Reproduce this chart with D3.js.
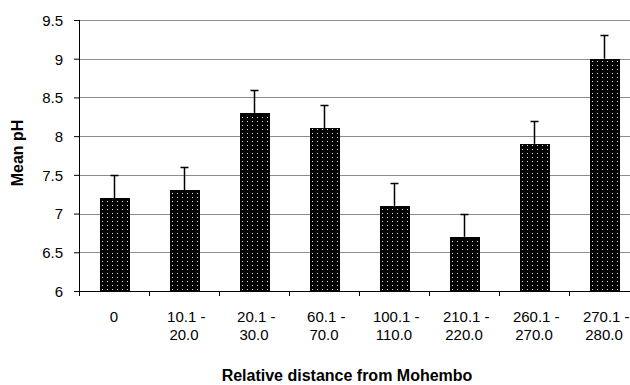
<!DOCTYPE html>
<html>
<head>
<meta charset="utf-8">
<script src="https://cdn.jsdelivr.net/npm/d3@7"></script>
<style>
body { margin: 0; background: #fff; }
text { font-family: "Liberation Sans", Arial, sans-serif; }
</style>
</head>
<body>
<div id="chart"></div>
<script>
// chart data
var categories = ["0", "10.1 - 20.0", "20.1 - 30.0", "60.1 - 70.0", "100.1 - 110.0", "210.1 - 220.0", "260.1 - 270.0", "270.1 - 280.0"];
var meanPH = [7.2, 7.3, 8.3, 8.1, 7.1, 6.7, 7.9, 9.0];
var errPH = [0.3, 0.3, 0.3, 0.3, 0.3, 0.3, 0.3, 0.3];
var yTicks = [6, 6.5, 7, 7.5, 8, 8.5, 9, 9.5];

var svgWidth = 630, svgHeight = 385;
// plot box (right edge runs past the picture, as in the original)
var plotLeft = 79, plotRight = 639, plotTop = 20, plotBottom = 291;

var svg = d3.select("#chart").append("svg")
    .attr("width", svgWidth)
    .attr("height", svgHeight);

// dotted fill for the bars
var pat = svg.append("defs").append("pattern")
    .attr("id", "dots")
    .attr("patternUnits", "userSpaceOnUse")
    .attr("width", 5)
    .attr("height", 4);
pat.append("rect").attr("width", 5).attr("height", 4).attr("fill", "#000");
pat.append("rect").attr("x", 2).attr("y", 1).attr("width", 1).attr("height", 1).attr("fill", "#e0e0e0");

var x = d3.scaleBand()
    .domain(categories)
    .range([plotLeft, plotRight])
    .paddingInner(0.586)
    .paddingOuter(0.293);

var y = d3.scaleLinear()
    .domain([6, 9.5])
    .range([plotBottom, plotTop]);

// gridlines
svg.append("g")
    .selectAll("line")
    .data(yTicks.slice(1))
    .enter().append("line")
    .attr("x1", plotLeft)
    .attr("x2", plotRight)
    .attr("y1", function(d) { return Math.round(y(d)) + 0.5; })
    .attr("y2", function(d) { return Math.round(y(d)) + 0.5; })
    .attr("stroke", "#8c8c8c")
    .attr("stroke-width", 1);

// y axis
var yAxis = svg.append("g")
    .attr("transform", "translate(" + plotLeft + ",0)")
    .call(d3.axisLeft(y).tickValues(yTicks).tickSize(5).tickPadding(11).tickFormat(d3.format("")));
yAxis.select(".domain").attr("stroke", "#000").attr("d", "M0.5," + plotTop + "V" + (plotBottom + 0.5));
yAxis.selectAll(".tick line").attr("stroke", "#000");
yAxis.selectAll("text").attr("font-size", "15px").attr("fill", "#000").attr("dy", "0.36em");

// x axis (ticks sit between categories)
var bounds = d3.range(categories.length + 1).map(function(i) { return plotLeft + i * x.step(); });
svg.append("line")
    .attr("x1", plotLeft).attr("x2", plotRight)
    .attr("y1", plotBottom + 0.5).attr("y2", plotBottom + 0.5)
    .attr("stroke", "#000");
svg.append("g")
    .selectAll("line")
    .data(bounds)
    .enter().append("line")
    .attr("x1", function(d) { return Math.round(d) + 0.5; })
    .attr("x2", function(d) { return Math.round(d) + 0.5; })
    .attr("y1", plotBottom)
    .attr("y2", plotBottom + 5)
    .attr("stroke", "#000");

// bars
svg.append("g")
    .selectAll("rect")
    .data(meanPH)
    .enter().append("rect")
    .attr("x", function(d, i) { return Math.round(x(categories[i])) + 0.5; })
    .attr("y", function(d) { return Math.round(y(d)) + 0.5; })
    .attr("width", Math.round(x.bandwidth()))
    .attr("height", function(d) { return Math.round(y(6)) - Math.round(y(d)); })
    .attr("fill", "url(#dots)")
    .attr("stroke", "#000")
    .attr("stroke-width", 1);

// error bars, upper side only
var err = svg.append("g");
meanPH.forEach(function(v, i) {
    var cx = Math.round(x(categories[i]) + x.bandwidth() / 2) + 0.5;
    var yTop = Math.round(y(v + errPH[i])) + 0.5;
    err.append("line")
        .attr("x1", cx).attr("x2", cx)
        .attr("y1", y(v)).attr("y2", yTop)
        .attr("stroke", "#000").attr("stroke-width", 1.5);
    err.append("line")
        .attr("x1", cx - 4).attr("x2", cx + 4)
        .attr("y1", yTop).attr("y2", yTop)
        .attr("stroke", "#000").attr("stroke-width", 1.5);
});

// category labels, split on the dash
var lab = svg.append("g");
categories.forEach(function(c) {
    var cx = x(c) + x.bandwidth() / 2;
    var parts = c.split(" - ");
    var t = lab.append("text")
        .attr("x", cx)
        .attr("y", 322)
        .attr("text-anchor", "middle")
        .attr("font-size", "15px")
        .attr("fill", "#000");
    if (parts.length > 1) {
        t.append("tspan").attr("x", cx).attr("dx", "0.15em").text(parts[0] + " -");
        t.append("tspan").attr("x", cx).attr("dy", 18).text(parts[1]);
    } else {
        t.text(c);
    }
});

// axis titles
svg.append("text")
    .attr("transform", "translate(23,153) rotate(-90)")
    .attr("text-anchor", "middle")
    .attr("font-size", "16px")
    .attr("font-weight", "bold")
    .text("Mean pH");

svg.append("text")
    .attr("x", 347)
    .attr("y", 381)
    .attr("text-anchor", "middle")
    .attr("font-size", "16px")
    .attr("font-weight", "bold")
    .text("Relative distance from Mohembo");
</script>
</body>
</html>
